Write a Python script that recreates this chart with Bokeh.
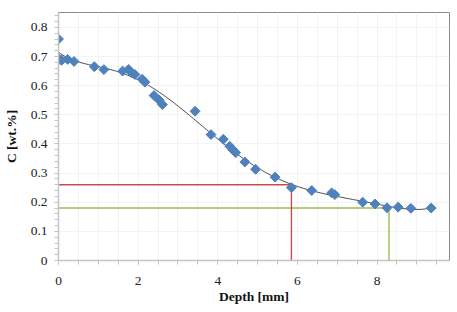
import numpy as np
from bokeh.plotting import figure
from bokeh.models import SingleIntervalTicker, ColumnDataSource, Range1d
from bokeh.embed import file_html
from bokeh.resources import INLINE

# Measured data
depth = [0.0, 0.02, 0.08, 0.23, 0.39, 0.9, 1.14, 1.61, 1.76, 1.83, 1.92, 2.1, 2.17,
         2.4, 2.53, 2.61, 3.43, 3.83, 4.14, 4.3, 4.38, 4.45, 4.68, 4.95, 5.44, 5.85,
         6.36, 6.86, 6.94, 7.64, 7.95, 8.25, 8.53, 8.85, 9.36]
carbon = [0.76, 0.69, 0.687, 0.69, 0.683, 0.665, 0.655, 0.65, 0.656, 0.645, 0.638, 0.622, 0.612,
          0.566, 0.55, 0.535, 0.512, 0.432, 0.416, 0.392, 0.38, 0.37, 0.338, 0.313, 0.286, 0.25,
          0.24, 0.232, 0.226, 0.2, 0.194, 0.181, 0.183, 0.179, 0.18]

# Reference levels
ref_depth = [5.85, 8.3]
ref_c = [0.26, 0.18]
ref_colors = ["#c0504d", "#9bbb59"]

# Trendline (polynomial fit of the measured data)
coef = np.polyfit(depth, carbon, 6)
tx = np.linspace(min(depth), max(depth), 200)
ty = np.polyval(coef, tx)

FONT = "Liberation Serif"

p = figure(frame_width=391, frame_height=248, output_backend="svg", toolbar_location=None,
           x_range=Range1d(0, 9.82), y_range=Range1d(0, 0.851),
           min_border_left=54, min_border_right=1, min_border_top=12, min_border_bottom=44)
p.background_fill_color = "white"
p.border_fill_color = "white"
p.outline_line_color = "#8a8a8a"
p.outline_line_width = 1

src = ColumnDataSource(dict(x0=[0, 0], y=ref_c, x1=ref_depth, c=ref_colors,
                            vx=ref_depth, vy0=[0, 0]))
p.segment(x0="x0", y0="y", x1="x1", y1="y", color="c", line_width=1.4, source=src)
p.segment(x0="vx", y0="vy0", x1="vx", y1="y", color="c", line_width=1.4, source=src)

p.line(tx, ty, line_color="#4a4a4a", line_width=1)
p.scatter(depth, carbon, marker="square", size=7, angle=np.pi / 4,
          fill_color="#4f81bd", line_color="#4f81bd")

p.xaxis.ticker = SingleIntervalTicker(interval=2, num_minor_ticks=4)
p.yaxis.ticker = SingleIntervalTicker(interval=0.1, num_minor_ticks=5)
p.yaxis.major_label_overrides = {0: "0"}

for ax in (p.xaxis, p.yaxis):
    ax.axis_line_color = "#c4c4c4"
    ax.axis_line_width = 1.5
    ax.major_tick_line_color = "#c4c4c4"
    ax.minor_tick_line_color = "#c4c4c4"
    ax.major_tick_in = 0
    ax.minor_tick_in = 0
    ax.major_tick_out = 4
    ax.minor_tick_out = 4
    ax.major_label_text_font = FONT
    ax.major_label_text_font_size = "13.5px"
    ax.major_label_text_color = "#222222"
    ax.axis_label_text_font = FONT
    ax.axis_label_text_font_style = "bold"
    ax.axis_label_text_font_size = "13.5px"
    ax.axis_label_text_color = "#111111"

p.xaxis.axis_label = "Depth [mm]"
p.yaxis.axis_label = "C [wt.%]"
p.xaxis.major_label_standoff = 12
p.yaxis.major_label_standoff = 7
p.xaxis.axis_label_standoff = 1
p.yaxis.axis_label_standoff = 9

p.xgrid.ticker = SingleIntervalTicker(interval=0.5)
p.xgrid.grid_line_color = "#f3f3f3"
p.ygrid.grid_line_color = "#f3f3f3"

open("out.html", "w").write(file_html(p, INLINE))
